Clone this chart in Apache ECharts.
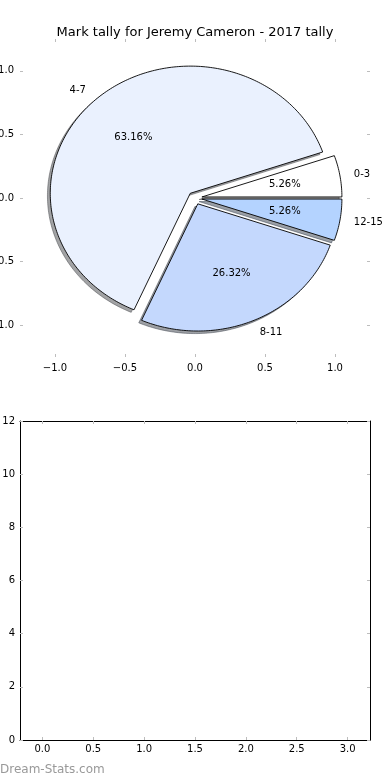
<!DOCTYPE html>
<html>
<head>
<meta charset="utf-8">
<script src="https://cdn.jsdelivr.net/npm/echarts@6/dist/echarts.min.js"></script>
<style>
html,body{margin:0;padding:0;background:#fff;}
#chart{width:390px;height:780px;}
</style>
</head>
<body>
<div id="chart"></div>
<script>
// ---- data ----
const categories = ['0-3', '4-7', '8-11', '12-15'];
const counts = [1, 12, 5, 1];
const explode = [0.05, 0.05, 0.05, 0.05];
const pieTicks = [-1, -0.5, 0, 0.5, 1];
const barXTicks = [0, 0.5, 1, 1.5, 2, 2.5, 3];
const barYTicks = [0, 2, 4, 6, 8, 10, 12];
const titleText = 'Mark tally for Jeremy Cameron - 2017 tally';

// ---- styles ----
const sliceColors = [[255, 255, 255], [234, 241, 254], [196, 216, 253], [180, 211, 255]];
const FONT = 'DejaVu Sans';
const TICK = '#bdbdbd';

const total = counts.reduce((a, b) => a + b, 0);
const startAngles = [], endAngles = [];
let acc = 0;
counts.forEach(v => { startAngles.push(acc / total * 360); acc += v; endAngles.push(acc / total * 360); });
const pctText = counts.map(v => (v / total * 100).toFixed(2) + '%');

function centerOf(i) {
  const mid = (startAngles[i] + endAngles[i]) / 2 * Math.PI / 180;
  return [explode[i] * Math.cos(mid), explode[i] * Math.sin(mid), mid];
}
function wedgePoints(i, dx, dy, api) {
  const [cx0, cy0] = centerOf(i);
  const cx = cx0 + dx, cy = cy0 + dy;
  const t1 = startAngles[i], t2 = endAngles[i];
  const pts = [api.coord([cx, cy])];
  const n = Math.max(4, Math.ceil(t2 - t1));
  for (let k = 0; k <= n; k++) {
    const a = (t1 + (t2 - t1) * k / n) * Math.PI / 180;
    pts.push(api.coord([cx + Math.cos(a), cy + Math.sin(a)]));
  }
  return pts;
}
const minus = v => String(v).replace('-', '\u2212');
const fmt1 = v => minus(Number(v).toFixed(1));

const chart = echarts.init(document.getElementById('chart'), null, {renderer: 'canvas'});

const tickStyle = (vals, len) => ({show: true, inside: true, length: len, lineStyle: {color: TICK, width: 1}, customValues: vals});
const labelStyle = (vals, fmt, margin) => ({show: true, customValues: vals, formatter: fmt, fontSize: 10, fontFamily: FONT, color: '#000', margin: margin});
const noLabel = {show: false};
const hiddenLine = {show: false, onZero: false};
const frameLine = {show: true, onZero: false, lineStyle: {color: '#000', width: 1}};

const option = {
  animation: false,
  backgroundColor: '#fff',
  title: {text: titleText, left: 'center', top: 21, textStyle: {fontSize: 13, fontWeight: 'normal', fontFamily: FONT, color: '#000'}},
  grid: [
    {left: 20, width: 350, top: 39, height: 318, outerBoundsMode: 'none', containLabel: false},
    {left: 20, width: 350, top: 421, height: 319, outerBoundsMode: 'none', containLabel: false}
  ],
  xAxis: [
    {type: 'value', gridIndex: 0, position: 'bottom', min: -1.25, max: 1.25, axisLine: hiddenLine, splitLine: {show: false},
      axisTick: tickStyle(pieTicks, 3), axisLabel: labelStyle(pieTicks, fmt1, 6)},
    {type: 'value', gridIndex: 0, position: 'top', min: -1.25, max: 1.25, axisLine: hiddenLine, splitLine: {show: false},
      axisTick: tickStyle(pieTicks, 3), axisLabel: noLabel},
    {type: 'value', gridIndex: 1, position: 'bottom', min: -0.22, max: 3.22, axisLine: frameLine, splitLine: {show: false},
      axisTick: tickStyle(barXTicks, 3), axisLabel: labelStyle(barXTicks, fmt1, 4)},
    {type: 'value', gridIndex: 1, position: 'top', min: -0.22, max: 3.22, axisLine: frameLine, splitLine: {show: false},
      axisTick: tickStyle(barXTicks, 3), axisLabel: noLabel}
  ],
  yAxis: [
    {type: 'value', gridIndex: 0, position: 'left', min: -1.25, max: 1.25, axisLine: hiddenLine, splitLine: {show: false},
      axisTick: tickStyle(pieTicks, 3), axisLabel: labelStyle(pieTicks, fmt1, 6)},
    {type: 'value', gridIndex: 0, position: 'right', min: -1.25, max: 1.25, axisLine: hiddenLine, splitLine: {show: false},
      axisTick: tickStyle(pieTicks, 3), axisLabel: noLabel},
    {type: 'value', gridIndex: 1, position: 'left', min: 0, max: 12, axisLine: frameLine, splitLine: {show: false},
      axisTick: tickStyle(barYTicks, 3), axisLabel: labelStyle(barYTicks, v => String(v), 5)},
    {type: 'value', gridIndex: 1, position: 'right', min: 0, max: 12, axisLine: frameLine, splitLine: {show: false},
      axisTick: tickStyle(barYTicks, 3), axisLabel: noLabel}
  ],
  graphic: [
    {type: 'text', left: 0, top: 764, style: {text: 'Dream-Stats.com', fontSize: 12, fontFamily: FONT, fill: '#999'}}
  ],
  series: [
    {
      name: 'shadow', type: 'custom', coordinateSystem: 'cartesian2d', xAxisIndex: 0, yAxisIndex: 0, z: 1, clip: false,
      data: counts.map(() => [0, 0]),
      renderItem: (params, api) => {
        const i = params.dataIndex;
        const c = sliceColors[i].map(x => Math.round(x * 0.3));
        const col = 'rgba(' + c.join(',') + ',0.5)';
        return {type: 'polygon', shape: {points: wedgePoints(i, -0.02, -0.02, api)}, style: {fill: col, stroke: col, lineWidth: 1}};
      }
    },
    {
      name: 'wedges', type: 'custom', coordinateSystem: 'cartesian2d', xAxisIndex: 0, yAxisIndex: 0, z: 2, clip: false,
      data: counts.map(() => [0, 0]),
      renderItem: (params, api) => {
        const i = params.dataIndex;
        return {type: 'polygon', shape: {points: wedgePoints(i, 0, 0, api)}, style: {fill: 'rgb(' + sliceColors[i].join(',') + ')', stroke: '#000', lineWidth: 0.9}};
      }
    },
    {
      name: 'labels', type: 'custom', coordinateSystem: 'cartesian2d', xAxisIndex: 0, yAxisIndex: 0, z: 3, clip: false,
      data: counts.map(() => [0, 0]),
      renderItem: (params, api) => {
        const i = params.dataIndex;
        const [cx, cy, mid] = centerOf(i);
        const lx = cx + 1.1 * Math.cos(mid), ly = cy + 1.1 * Math.sin(mid);
        const px = cx + 0.6 * Math.cos(mid), py = cy + 0.6 * Math.sin(mid);
        const lp = api.coord([lx, ly]), pp = api.coord([px, py]);
        return {type: 'group', children: [
          {type: 'text', x: lp[0], y: lp[1], style: {text: categories[i], fontSize: 10, fontFamily: FONT, fill: '#000', align: lx > 0 ? 'left' : 'right', verticalAlign: 'middle'}},
          {type: 'text', x: pp[0], y: pp[1], style: {text: pctText[i], fontSize: 10, fontFamily: FONT, fill: '#000', align: 'center', verticalAlign: 'middle'}}
        ]};
      }
    }
  ]
};
chart.setOption(option);
</script>
</body>
</html>
